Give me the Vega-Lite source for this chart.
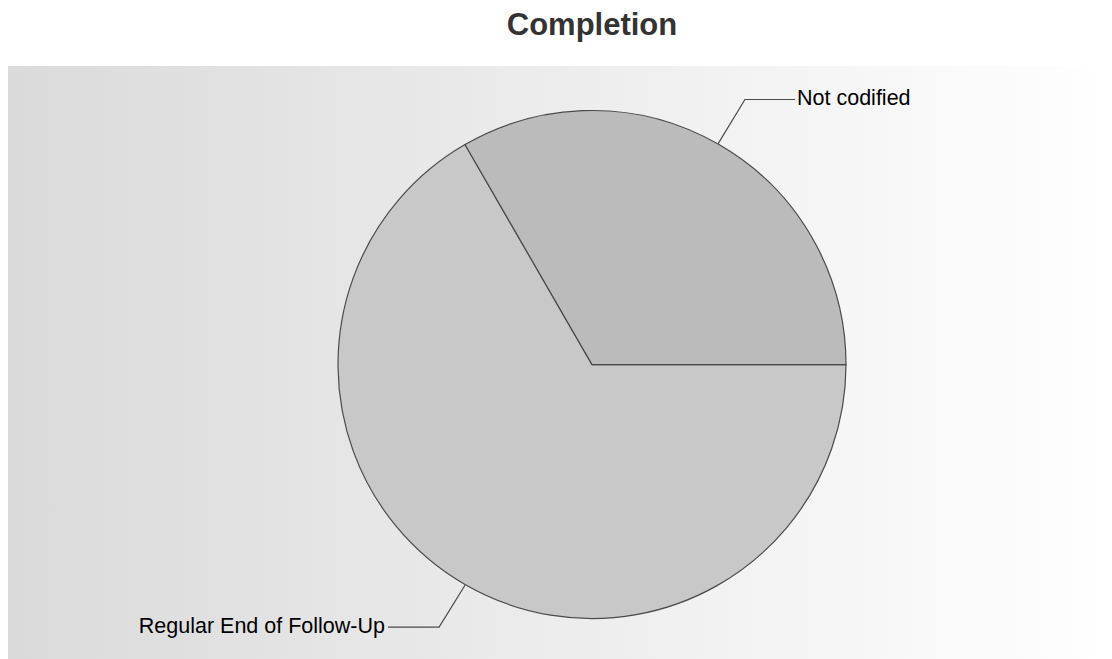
{
  "$schema": "https://vega.github.io/schema/vega-lite/v6.json",
  "width": 1112,
  "height": 659,
  "autosize": {"type": "fit", "contains": "padding"},
  "padding": {"left": 8, "top": 10, "right": 0, "bottom": 0},
  "background": "#ffffff",
  "title": {
    "text": "Completion",
    "fontSize": 31,
    "fontWeight": "bold",
    "font": "Liberation Sans",
    "color": "#333333",
    "anchor": "middle",
    "dx": 32,
    "offset": 24
  },
  "config": {
    "view": {
      "stroke": null,
      "fill": {
        "gradient": "linear",
        "x1": 0, "y1": 0, "x2": 1, "y2": 0,
        "stops": [
          {"offset": 0, "color": "#dadada"},
          {"offset": 1, "color": "#ffffff"}
        ]
      }
    },
    "text": {"font": "Liberation Sans"}
  },
  "datasets": {
    "slices": [
      {"category": "Regular End of Follow-Up", "value": 2, "rank": 1},
      {"category": "Not codified", "value": 1, "rank": 2}
    ],
    "connectors": [
      {"category": "Not codified", "step": 1, "px": 0.496, "py": 0.870},
      {"category": "Not codified", "step": 2, "px": 0.602, "py": 1.045},
      {"category": "Not codified", "step": 3, "px": 0.799, "py": 1.045},
      {"category": "Regular End of Follow-Up", "step": 1, "px": -0.5, "py": -0.870},
      {"category": "Regular End of Follow-Up", "step": 2, "px": -0.602, "py": -1.035},
      {"category": "Regular End of Follow-Up", "step": 3, "px": -0.803, "py": -1.035}
    ],
    "labels": [
      {"category": "Not codified", "px": 0.807, "py": 1.045, "side": "left"},
      {"category": "Regular End of Follow-Up", "px": -0.815, "py": -1.035, "side": "right"}
    ]
  },
  "layer": [
    {
      "data": {"name": "slices"},
      "mark": {"type": "arc", "outerRadius": 254, "stroke": "#4a4a4a", "strokeWidth": 1.2},
      "encoding": {
        "x": {"datum": 0, "type": "quantitative", "scale": {"domain": [-2.299, 2.047], "nice": false, "zero": false}, "axis": null},
        "y": {"datum": 0, "type": "quantitative", "scale": {"domain": [-1.161, 1.177], "nice": false, "zero": false}, "axis": null},
        "theta": {"field": "value", "type": "quantitative", "stack": true, "scale": {"range": [1.5707963, 7.8539816]}},
        "order": {"field": "rank", "type": "quantitative"},
        "color": {
          "field": "category", "type": "nominal", "legend": null,
          "scale": {"domain": ["Regular End of Follow-Up", "Not codified"], "range": ["#c8c8c8", "#bbbbbb"]}
        }
      }
    },
    {
      "data": {"name": "connectors"},
      "mark": {"type": "line", "color": "#4a4a4a", "strokeWidth": 1.2},
      "encoding": {
        "x": {"field": "px", "type": "quantitative", "axis": null},
        "y": {"field": "py", "type": "quantitative", "axis": null},
        "detail": {"field": "category"},
        "order": {"field": "step", "type": "quantitative"}
      }
    },
    {
      "data": {"name": "labels"},
      "transform": [{"filter": "datum.side === 'left'"}],
      "mark": {"type": "text", "align": "left", "baseline": "middle", "fontSize": 21.5, "color": "#000000"},
      "encoding": {
        "x": {"field": "px", "type": "quantitative", "axis": null},
        "y": {"field": "py", "type": "quantitative", "axis": null},
        "text": {"field": "category"}
      }
    },
    {
      "data": {"name": "labels"},
      "transform": [{"filter": "datum.side === 'right'"}],
      "mark": {"type": "text", "align": "right", "baseline": "middle", "fontSize": 21.5, "color": "#000000"},
      "encoding": {
        "x": {"field": "px", "type": "quantitative", "axis": null},
        "y": {"field": "py", "type": "quantitative", "axis": null},
        "text": {"field": "category"}
      }
    }
  ]
}
